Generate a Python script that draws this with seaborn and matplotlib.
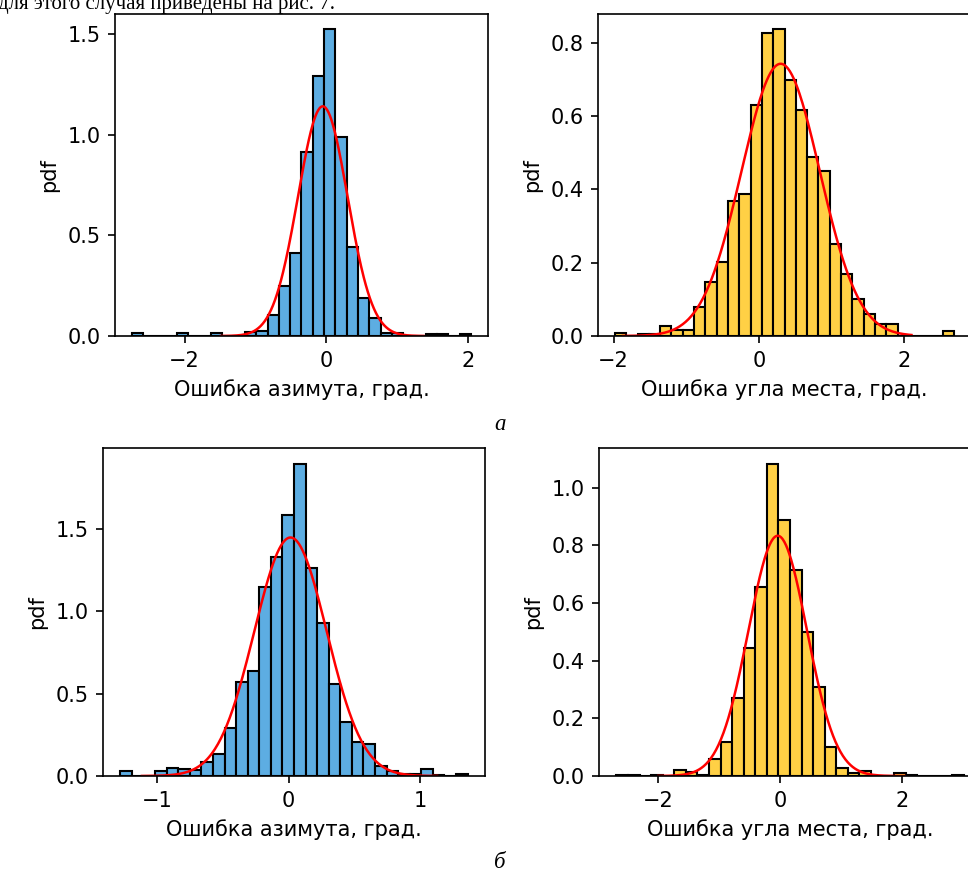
import numpy as np
import pandas as pd
import matplotlib
matplotlib.use("Agg")
import matplotlib.pyplot as plt
import seaborn as sns

# плотности столбцов (30 бинов) и границы диапазона данных
az_a_range = (-2.742, 2.042)
az_a = [0.017, 0, 0, 0, 0.017, 0, 0, 0.017, 0, 0, 0.020, 0.023, 0.106, 0.250, 0.410,
        0.914, 1.289, 1.522, 0.988, 0.443, 0.191, 0.091, 0.017, 0.017, 0, 0, 0.008, 0.008, 0, 0.008]

el_a_range = (-1.980, 2.686)
el_a = [0.008, 0, 0.005, 0.005, 0.028, 0.016, 0.017, 0.078, 0.147, 0.201, 0.368, 0.386, 0.629, 0.827, 0.836,
        0.699, 0.615, 0.487, 0.450, 0.252, 0.170, 0.100, 0.059, 0.032, 0.032, 0, 0, 0, 0, 0.014]

az_b_range = (-1.279, 1.362)
az_b = [0.030, 0, 0, 0.030, 0.051, 0.040, 0.038, 0.083, 0.135, 0.293, 0.574, 0.635, 1.150, 1.332, 1.583,
        1.898, 1.261, 0.928, 0.560, 0.328, 0.206, 0.196, 0.061, 0.028, 0.014, 0.010, 0.040, 0.008, 0, 0.012]

el_b_range = (-2.678, 3.004)
el_b = [0.004, 0.004, 0, 0.004, 0, 0.020, 0.014, 0.003, 0.058, 0.118, 0.272, 0.445, 0.655, 1.083, 0.887,
        0.713, 0.499, 0.309, 0.101, 0.027, 0.012, 0.017, 0, 0, 0.009, 0.004, 0, 0, 0, 0.004]

# параметры нормальной аппроксимации: mu, sigma, начало и конец кривой
fit_az_a = (-0.050, 0.350, -1.49, 1.37)
fit_el_a = (0.300, 0.5376, -1.87, 2.10)
fit_az_b = (0.015, 0.2753, -1.115, 1.13)
fit_el_b = (-0.038, 0.479, -1.99, 2.04)

# подписи осей
xticks_a = [-2, 0, 2]
xticks_b = [-1, 0, 1]
yticks_az_a = [0.0, 0.5, 1.0, 1.5]

BLUE = "#5DADE2"
YELLOW = "#FFD045"
XLAB_AZ = "Ошибка азимута, град."
XLAB_EL = "Ошибка угла места, град."

W, H, DPI = 968, 876, 150
fig = plt.figure(figsize=(W / DPI, H / DPI), dpi=DPI)


def add_ax(left, top, right, bottom):
    return fig.add_axes([left / W, 1 - bottom / H, (right - left) / W, (bottom - top) / H])


def draw(ax, heights, rng, fit, color, xlabel, xticks):
    n = len(heights)
    step = (rng[1] - rng[0]) / n
    df = pd.DataFrame({"x": rng[0] + step * (np.arange(n) + 0.5), "w": heights})
    sns.histplot(data=df, x="x", weights="w", bins=n, binrange=rng, stat="count",
                 color=color, alpha=1, edgecolor="black", linewidth=1, ax=ax)
    mu, sd, lo, hi = fit
    xs = np.linspace(lo, hi, 300)
    pdf = np.exp(-0.5 * ((xs - mu) / sd) ** 2) / (sd * np.sqrt(2 * np.pi))
    sns.lineplot(x=xs, y=pdf, color="red", linewidth=1.2, ax=ax)
    ax.set_xticks(xticks)
    ax.set_xlabel(xlabel)
    ax.set_ylabel("pdf")


ax1 = add_ax(115, 14, 488, 336)
ax2 = add_ax(598, 14, 971, 336)
ax3 = add_ax(103, 448, 485, 776)
ax4 = add_ax(599, 448, 981, 776)

draw(ax1, az_a, az_a_range, fit_az_a, BLUE, XLAB_AZ, xticks_a)
draw(ax2, el_a, el_a_range, fit_el_a, YELLOW, XLAB_EL, xticks_a)
draw(ax3, az_b, az_b_range, fit_az_b, BLUE, XLAB_AZ, xticks_b)
draw(ax4, el_b, el_b_range, fit_el_b, YELLOW, XLAB_EL, xticks_a)
ax1.set_yticks(yticks_az_a)

# подписи из документа
fig.text(-0.002, 1 - 9 / H, "для этого случая приведены на рис. 7.",
         family="Liberation Serif", fontsize=10, ha="left", va="baseline")
fig.text(500 / W, 1 - 425 / H, "а", family="Liberation Serif", style="italic",
         fontsize=11, ha="center", va="center")
fig.text(500 / W, 1 - 862 / H, "б", family="Liberation Serif", style="italic",
         fontsize=11, ha="center", va="center")

fig.savefig("out.png", dpi=DPI)
